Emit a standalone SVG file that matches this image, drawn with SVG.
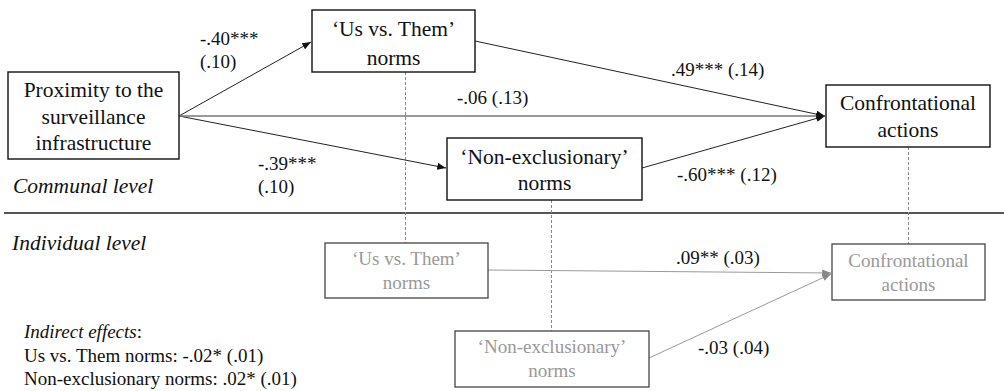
<svg xmlns="http://www.w3.org/2000/svg" width="1004" height="391" viewBox="0 0 1004 391">
<defs>
<marker id="ah" viewBox="0 0 10 8" refX="10" refY="4" markerWidth="9" markerHeight="7" markerUnits="userSpaceOnUse" orient="auto"><path d="M0,0 L10,4 L0,8 z" fill="#111"/></marker>
<marker id="gah" viewBox="0 0 10 8" refX="10" refY="4" markerWidth="9" markerHeight="7" markerUnits="userSpaceOnUse" orient="auto"><path d="M0,0 L10,4 L0,8 z" fill="#888"/></marker>
</defs>
<rect width="1004" height="391" fill="#fff"/>
<line x1="4" y1="213" x2="1004" y2="213" stroke="#555" stroke-width="2"/>
<g id="connectors">
<g stroke="#888" stroke-width="1" stroke-dasharray="3 2" fill="none">
<line x1="405.5" y1="72" x2="405.5" y2="243"/>
<line x1="551.5" y1="200" x2="551.5" y2="331"/>
<line x1="908.5" y1="147" x2="908.5" y2="244"/>
</g>
<g stroke="#222" stroke-width="1" fill="none" marker-end="url(#ah)">
<line x1="179" y1="116" x2="311" y2="42"/>
<line x1="179" y1="116" x2="446" y2="168"/>
<line x1="475" y1="41" x2="825" y2="116"/>
<line x1="642" y1="168" x2="825" y2="116"/>
</g>
<line x1="179" y1="116" x2="825" y2="116" stroke="#777" stroke-width="1.4" marker-end="url(#ah)"/>
<g stroke="#999" stroke-width="1" fill="none" marker-end="url(#gah)">
<line x1="488" y1="270" x2="831" y2="273"/>
<line x1="649" y1="358" x2="831" y2="274"/>
</g>
<text font-family="Liberation Serif" font-size="19" fill="#111" x="200" y="45">-.40***</text>
<text font-family="Liberation Serif" font-size="19" fill="#111" x="200" y="68">(.10)</text>
<text font-family="Liberation Serif" font-size="19" fill="#111" x="457" y="104">-.06 (.13)</text>
<text font-family="Liberation Serif" font-size="19" fill="#111" x="671" y="76">.49*** (.14)</text>
<text font-family="Liberation Serif" font-size="19" fill="#111" x="258" y="170">-.39***</text>
<text font-family="Liberation Serif" font-size="19" fill="#111" x="258" y="193">(.10)</text>
<text font-family="Liberation Serif" font-size="19" fill="#111" x="677" y="181">-.60*** (.12)</text>
<text font-family="Liberation Serif" font-size="19" fill="#111" x="676" y="264">.09** (.03)</text>
<text font-family="Liberation Serif" font-size="19" fill="#111" x="698" y="354">-.03 (.04)</text>
</g>
<g id="proximity">
<rect x="8" y="72" width="171" height="87" fill="#fff" stroke="#111" stroke-width="1.4"/>
<text font-family="Liberation Serif" font-size="21.5" fill="#111" text-anchor="middle" x="93.5" y="97">Proximity to the</text>
<text font-family="Liberation Serif" font-size="21.5" fill="#111" text-anchor="middle" x="93.5" y="124">surveillance</text>
<text font-family="Liberation Serif" font-size="21.5" fill="#111" text-anchor="middle" x="93.5" y="150">infrastructure</text>
</g>
<g id="usthem">
<rect x="312" y="10" width="163" height="62" fill="#fff" stroke="#111" stroke-width="1.4"/>
<text font-family="Liberation Serif" font-size="21.5" fill="#111" text-anchor="middle" x="393.5" y="36">‘Us vs. Them’</text>
<text font-family="Liberation Serif" font-size="21.5" fill="#111" text-anchor="middle" x="393.5" y="65">norms</text>
</g>
<g id="nonexcl">
<rect x="447" y="138" width="195" height="62" fill="#fff" stroke="#111" stroke-width="1.4"/>
<text font-family="Liberation Serif" font-size="21.5" fill="#111" text-anchor="middle" x="544.5" y="164">‘Non-exclusionary’</text>
<text font-family="Liberation Serif" font-size="21.5" fill="#111" text-anchor="middle" x="544.5" y="190">norms</text>
</g>
<g id="confront">
<rect x="826" y="85" width="164" height="62" fill="#fff" stroke="#111" stroke-width="1.4"/>
<text font-family="Liberation Serif" font-size="21.5" fill="#111" text-anchor="middle" x="908" y="110">Confrontational</text>
<text font-family="Liberation Serif" font-size="21.5" fill="#111" text-anchor="middle" x="908" y="137">actions</text>
</g>
<g id="usthem-ind">
<rect x="325" y="243" width="163" height="55" fill="#fff" stroke="#444" stroke-width="1.3"/>
<text font-family="Liberation Serif" font-size="19" fill="#999" text-anchor="middle" x="406.5" y="265">‘Us vs. Them’</text>
<text font-family="Liberation Serif" font-size="19" fill="#999" text-anchor="middle" x="406.5" y="289">norms</text>
</g>
<g id="nonexcl-ind">
<rect x="455" y="331" width="194" height="56" fill="#fff" stroke="#444" stroke-width="1.3"/>
<text font-family="Liberation Serif" font-size="19" fill="#999" text-anchor="middle" x="552" y="353">‘Non-exclusionary’</text>
<text font-family="Liberation Serif" font-size="19" fill="#999" text-anchor="middle" x="552" y="377">norms</text>
</g>
<g id="confront-ind">
<rect x="832" y="244" width="153" height="56" fill="#fff" stroke="#444" stroke-width="1.3"/>
<text font-family="Liberation Serif" font-size="19" fill="#999" text-anchor="middle" x="908.5" y="267">Confrontational</text>
<text font-family="Liberation Serif" font-size="19" fill="#999" text-anchor="middle" x="908.5" y="291">actions</text>
</g>
<g id="levels">
<text font-family="Liberation Serif" font-size="21.5" font-style="italic" fill="#111" x="13" y="193">Communal level</text>
<text font-family="Liberation Serif" font-size="21.5" font-style="italic" fill="#111" x="12" y="250">Individual level</text>
</g>
<g id="indirect">
<text font-family="Liberation Serif" font-size="19" fill="#111" x="24" y="338"><tspan font-style="italic">Indirect effects</tspan>:</text>
<text font-family="Liberation Serif" font-size="19" fill="#111" x="24" y="362">Us vs. Them norms: -.02* (.01)</text>
<text font-family="Liberation Serif" font-size="19" fill="#111" x="24" y="385">Non-exclusionary norms: .02* (.01)</text>
</g>
</svg>
